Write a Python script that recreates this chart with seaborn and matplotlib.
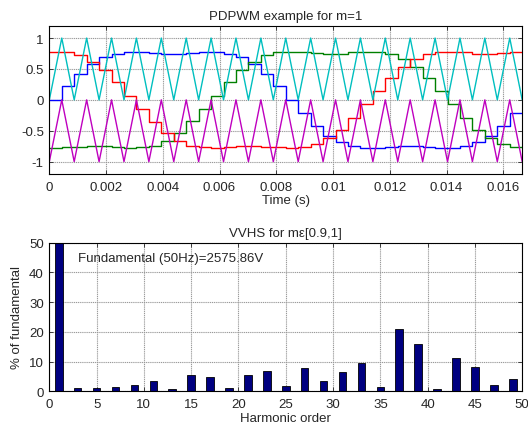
import matplotlib
matplotlib.use("Agg")
import matplotlib.pyplot as plt
import seaborn as sns

sns.set_style("ticks")
plt.rcParams['font.family'] = ['Liberation Sans', 'DejaVu Sans']

# carrier vertex times (s), one vertex every half carrier period (19 carriers per 1/60 s)
carrier_t = [0.0, 0.000439, 0.000877, 0.001316, 0.001754, 0.002193, 0.002632, 0.003070,
             0.003509, 0.003947, 0.004386, 0.004825, 0.005263, 0.005702, 0.006140, 0.006579,
             0.007018, 0.007456, 0.007895, 0.008333, 0.008772, 0.009211, 0.009649, 0.010088,
             0.010526, 0.010965, 0.011404, 0.011842, 0.012281, 0.012719, 0.013158, 0.013596,
             0.014035, 0.014474, 0.014912, 0.015351, 0.015789, 0.016228, 0.016667]
carrier_up = [0, 1, 0, 1, 0, 1, 0, 1, 0, 1, 0, 1, 0, 1, 0, 1, 0, 1, 0, 1,
              0, 1, 0, 1, 0, 1, 0, 1, 0, 1, 0, 1, 0, 1, 0, 1, 0, 1, 0]
carrier_low = [-1, 0, -1, 0, -1, 0, -1, 0, -1, 0, -1, 0, -1, 0, -1, 0, -1, 0, -1, 0,
               -1, 0, -1, 0, -1, 0, -1, 0, -1, 0, -1, 0, -1, 0, -1, 0, -1, 0, -1]

# sampled references (held over each half carrier period)
ref_blue = [0.00, 0.22, 0.42, 0.58, 0.69, 0.75, 0.78, 0.78, 0.76, 0.75, 0.75, 0.76, 0.78,
            0.78, 0.75, 0.69, 0.58, 0.42, 0.22, 0.00, -0.22, -0.42, -0.58, -0.69, -0.75,
            -0.78, -0.78, -0.76, -0.75, -0.75, -0.76, -0.78, -0.78, -0.75, -0.69, -0.58,
            -0.42, -0.22]
ref_green = [-0.78, -0.77, -0.76, -0.75, -0.75, -0.77, -0.78, -0.77, -0.74, -0.66, -0.53,
             -0.35, -0.15, 0.07, 0.29, 0.48, 0.62, 0.72, 0.77, 0.78, 0.77, 0.76, 0.75, 0.75,
             0.77, 0.78, 0.77, 0.74, 0.66, 0.53, 0.35, 0.15, -0.07, -0.29, -0.48, -0.62,
             -0.72, -0.77]
ref_red = [0.78, 0.77, 0.72, 0.62, 0.48, 0.29, 0.07, -0.15, -0.36, -0.53, -0.66, -0.74,
           -0.77, -0.78, -0.77, -0.75, -0.75, -0.76, -0.77, -0.78, -0.77, -0.72, -0.62,
           -0.48, -0.29, -0.07, 0.15, 0.36, 0.53, 0.66, 0.74, 0.77, 0.78, 0.77, 0.75, 0.75,
           0.76, 0.77]

# harmonic spectrum (% of fundamental)
harm_order = [1, 3, 5, 7, 9, 11, 13, 15, 17, 19, 21, 23, 25, 27, 29, 31, 33, 35, 37, 39,
              41, 43, 45, 47, 49]
harm_pct = [100, 1.0, 1.0, 1.3, 2.1, 3.6, 0.7, 5.4, 4.9, 1.0, 5.4, 6.8, 1.8, 7.8, 3.6,
            6.5, 9.4, 1.3, 21.1, 16.0, 0.7, 11.2, 8.3, 2.1, 4.2]

fig = plt.figure(figsize=(5.28, 4.35), dpi=100)
ax1 = fig.add_axes([0.0934, 0.5977, 0.8956, 0.3409])
ax2 = fig.add_axes([0.0934, 0.0982, 0.8956, 0.3416])

fs = 9.5
grid_kw = dict(color='0.6', linestyle=(0, (1, 0.7)), linewidth=0.8)

# --- top: PDPWM ---
for vals, col in [(ref_blue, (0, 0, 1)), (ref_green, (0, 0.5, 0)), (ref_red, (1, 0, 0))]:
    sns.lineplot(x=carrier_t, y=vals + [vals[-1]], ax=ax1, color=col, linewidth=1.0,
                 drawstyle='steps-post', sort=False)
sns.lineplot(x=carrier_t, y=carrier_up, ax=ax1, color=(0, 0.75, 0.75), linewidth=1.0, sort=False)
sns.lineplot(x=carrier_t, y=carrier_low, ax=ax1, color=(0.75, 0, 0.75), linewidth=1.0, sort=False)
ax1.set_xlim(0, 1 / 60)
ax1.set_ylim(-1.2, 1.2)
ax1.set_xticks([0, 0.002, 0.004, 0.006, 0.008, 0.01, 0.012, 0.014, 0.016])
ax1.set_xticklabels(['0', '0.002', '0.004', '0.006', '0.008', '0.01', '0.012', '0.014', '0.016'])
ax1.set_yticks([-1, -0.5, 0, 0.5, 1])
ax1.set_yticklabels(['-1', '-0.5', '0', '0.5', '1'])
ax1.set_title('PDPWM example for m=1', fontsize=fs, pad=5)
ax1.set_xlabel('Time (s)', fontsize=fs, labelpad=1)
ax1.set_ylabel('')
ax1.grid(True, **grid_kw)

# --- bottom: harmonic spectrum ---
sns.barplot(x=harm_order, y=harm_pct, ax=ax2, native_scale=True, width=0.4,
            color=(0, 0, 0.5), edgecolor='black', linewidth=0.6, saturation=1)
ax2.set_xlim(0, 50)
ax2.set_ylim(0, 50)
ax2.set_xticks(range(0, 51, 5))
ax2.set_yticks(range(0, 51, 10))
ax2.set_title('VVHS for mε[0.9,1]', fontsize=fs, pad=5)
ax2.set_xlabel('Harmonic order', fontsize=fs, labelpad=1)
ax2.set_ylabel('% of fundamental', fontsize=fs, labelpad=4)
ax2.text(3, 45, 'Fundamental (50Hz)=2575.86V', fontsize=fs, va='center', ha='left')
ax2.grid(True, **grid_kw)
ax2.set_axisbelow(True)

for ax in (ax1, ax2):
    for sp in ax.spines.values():
        sp.set_visible(True)
        sp.set_linewidth(0.8)
        sp.set_color('black')
    ax.tick_params(direction='in', length=3, width=0.6, top=True, right=True,
                   labelsize=fs, pad=4)
    ax.tick_params(axis='x', pad=5)

fig.savefig('out.png', dpi=100)
